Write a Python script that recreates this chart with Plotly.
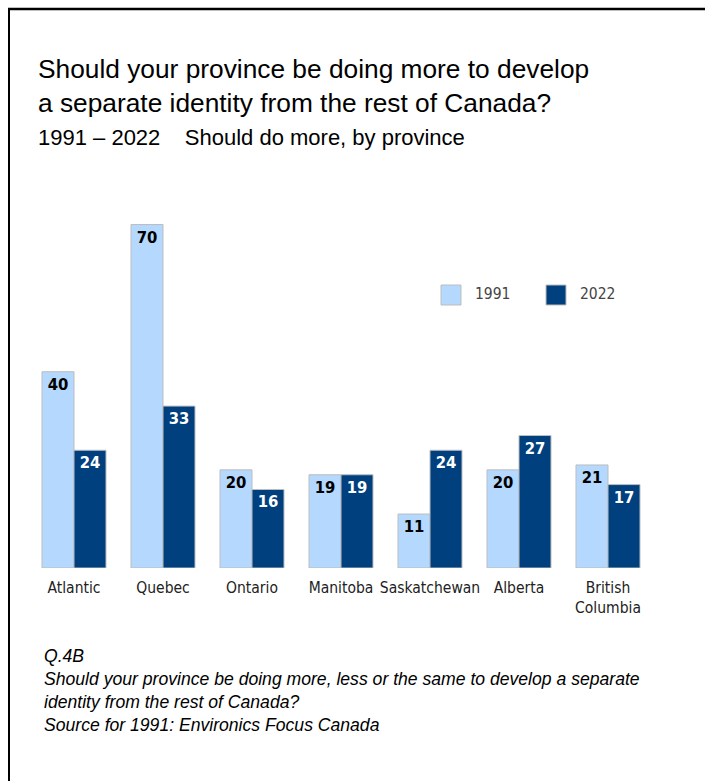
import plotly.graph_objects as go

categories = ["Atlantic", "Quebec", "Ontario", "Manitoba", "Saskatchewan", "Alberta", "British<br>Columbia"]
series_names = ["1991", "2022"]
values_1991 = [40, 70, 20, 19, 11, 20, 21]
values_2022 = [24, 33, 16, 19, 24, 27, 17]

LIGHT = "#B4D8FE"
DARK = "#00407F"
OUTLINE = "#BDBDBD"
W, H = 705, 781

def px_x(x):
    return x / W

def px_y(y):
    return (H - y) / H

NARROW = "Liberation Sans Narrow, DejaVu Sans Condensed, Arial Narrow, sans-serif"
ARIAL = "Liberation Sans, Arial, sans-serif"

fig = go.Figure()
for name, vals, col, tcol in [(series_names[0], values_1991, LIGHT, "black"),
                              (series_names[1], values_2022, DARK, "white")]:
    fig.add_trace(go.Bar(
        x=categories, y=vals, name=name,
        marker=dict(color=col, line=dict(color=OUTLINE, width=1)),
        text=[str(v) for v in vals], textposition="inside", insidetextanchor="end",
        textangle=0, constraintext="none",
        textfont=dict(family=NARROW, size=16.5, color=tcol, weight="bold"),
        showlegend=False, hoverinfo="skip",
    ))

fig.update_layout(
    width=W, height=H, margin=dict(l=0, r=0, t=0, b=0),
    paper_bgcolor="white", plot_bgcolor="white",
    barmode="group", bargap=0.281, bargroupgap=0,
    xaxis=dict(domain=[px_x(29.5), px_x(652.5)], showgrid=False, zeroline=False,
               showline=False, ticks="", ticklabelstandoff=8, tickangle=0,
               tickfont=dict(family=NARROW, size=15.5, color="#222222"),
               fixedrange=True),
    yaxis=dict(domain=[px_y(568), px_y(200)], range=[0, 75], visible=False, fixedrange=True),
    font=dict(family=ARIAL),
)

shapes = [
    dict(type="line", xref="paper", yref="paper", x0=px_x(8), x1=1, y0=px_y(9), y1=px_y(9),
         line=dict(color="black", width=2.5)),
    dict(type="line", xref="paper", yref="paper", x0=px_x(9), x1=px_x(9), y0=0, y1=px_y(8),
         line=dict(color="black", width=2)),
]
annotations = [
    dict(text="Should your province be doing more to develop<br>a separate identity from the rest of Canada?",
         xref="paper", yref="paper", x=px_x(36), y=px_y(86), xanchor="left", yanchor="middle",
         align="left", showarrow=False, font=dict(family=ARIAL, size=26.3, color="black")),
    dict(text="1991 \u2013 2022\u00a0\u00a0\u00a0\u00a0Should do more, by province",
         xref="paper", yref="paper", x=px_x(36), y=px_y(138), xanchor="left", yanchor="middle",
         align="left", showarrow=False, font=dict(family=ARIAL, size=22, color="black")),
    dict(text="<i>Q.4B<br>Should your province be doing more, less or the same to develop a separate<br>"
              "identity from the rest of Canada?<br>Source for 1991: Environics Focus Canada</i>",
         xref="paper", yref="paper", x=px_x(42), y=px_y(690), xanchor="left", yanchor="middle",
         align="left", showarrow=False, font=dict(family=ARIAL, size=17.6, color="black")),
]

# custom legend
for i, (name, col) in enumerate([(series_names[0], LIGHT), (series_names[1], DARK)]):
    x0 = 441 + i * 105
    shapes.append(dict(type="rect", xref="paper", yref="paper",
                       x0=px_x(x0), x1=px_x(x0 + 20), y0=px_y(305), y1=px_y(285),
                       fillcolor=col, line=dict(color=OUTLINE, width=1)))
    annotations.append(dict(text=name, xref="paper", yref="paper", x=px_x(x0 + 32), y=px_y(294),
                            xanchor="left", yanchor="middle", showarrow=False,
                            font=dict(family=NARROW, size=15.5, color="#444444")))

fig.update_layout(shapes=shapes, annotations=annotations)
fig.write_html(
    "out.html",
    config={"displayModeBar": False, "staticPlot": True},
    post_script="document.body.style.margin='0px';document.documentElement.style.overflow='hidden';",
)
